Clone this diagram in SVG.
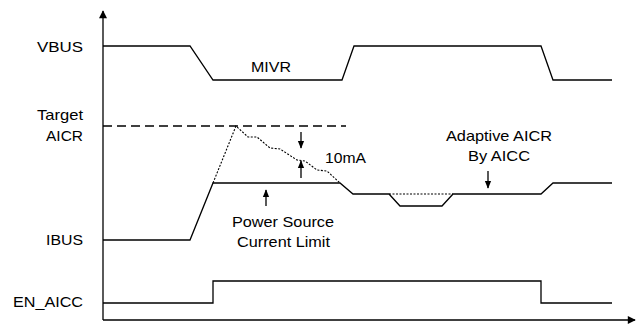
<svg xmlns="http://www.w3.org/2000/svg" width="643" height="325" viewBox="0 0 643 325">
<style>
.t{font-family:"Liberation Sans",Arial,sans-serif;font-size:14.5px;fill:#000}
.w{fill:none;stroke:#000;stroke-width:1.3}
.d{fill:none;stroke:#000;stroke-width:1.1;stroke-dasharray:2,1.5}
.ds{fill:none;stroke:#000;stroke-width:1.3;stroke-dasharray:9,5}
.a{fill:none;stroke:#000;stroke-width:1.3}
</style>
<defs>
<marker id="ah" viewBox="0 0 10 10" refX="9" refY="5" markerWidth="9" markerHeight="8" markerUnits="userSpaceOnUse" orient="auto"><path d="M0,0 L10,5 L0,10 z" fill="#000"/></marker>
<marker id="ahs" viewBox="0 0 10 10" refX="9" refY="5" markerWidth="8" markerHeight="8" markerUnits="userSpaceOnUse" orient="auto"><path d="M0,1 L10,5 L0,9 z" fill="#000"/></marker>
</defs>
<g id="axes">
<line class="a" x1="103" y1="320" x2="103" y2="11" marker-end="url(#ah)"/>
<line class="a" x1="103" y1="320" x2="635" y2="320" marker-end="url(#ah)"/>
</g>
<g id="labels">
<text class="t" x="37" y="52" textLength="46" lengthAdjust="spacingAndGlyphs">VBUS</text>
<text class="t" x="37" y="120" textLength="46" lengthAdjust="spacingAndGlyphs">Target</text>
<text class="t" x="46" y="141" textLength="37" lengthAdjust="spacingAndGlyphs">AICR</text>
<text class="t" x="46" y="245" textLength="37" lengthAdjust="spacingAndGlyphs">IBUS</text>
<text class="t" x="13" y="307" textLength="70" lengthAdjust="spacingAndGlyphs">EN_AICC</text>
</g>
<g id="vbus">
<polyline class="w" points="103,46 190,46 213,80 342,80 354,46 541,46 553,80 612,80"/>
<text class="t" x="251" y="72" textLength="40" lengthAdjust="spacingAndGlyphs">MIVR</text>
</g>
<g id="target-aicr">
<line class="ds" x1="103" y1="126" x2="346" y2="126"/>
</g>
<g id="ibus">
<polyline class="w" points="103,240 190,240 213,183 340,183 353,194 389,194 400,206 442,206 453,194 541,194 553,183 612,183"/>
<polyline class="d" points="213,183 236,126 248,137 257,137 270,148 280,149 297,160 305,161 317,170 327,171 340,183"/>
<line class="d" x1="389" y1="194" x2="453" y2="194"/>
</g>
<g id="annotations">
<line class="a" x1="301" y1="132" x2="301" y2="148" marker-end="url(#ahs)"/>
<line class="a" x1="301" y1="178" x2="301" y2="161" marker-end="url(#ahs)"/>
<text class="t" x="325" y="163" textLength="41" lengthAdjust="spacingAndGlyphs">10mA</text>
<line class="a" x1="266" y1="206" x2="266" y2="190" marker-end="url(#ahs)"/>
<text class="t" x="232" y="227" textLength="102" lengthAdjust="spacingAndGlyphs">Power Source</text>
<text class="t" x="237" y="247" textLength="93" lengthAdjust="spacingAndGlyphs">Current Limit</text>
<line class="a" x1="488" y1="171" x2="488" y2="188" marker-end="url(#ahs)"/>
<text class="t" x="446" y="141" textLength="106" lengthAdjust="spacingAndGlyphs">Adaptive AICR</text>
<text class="t" x="468" y="161" textLength="62" lengthAdjust="spacingAndGlyphs">By AICC</text>
</g>
<g id="en-aicc">
<polyline class="w" points="103,303 213,303 213,281 541,281 541,303 612,303"/>
</g>
</svg>
